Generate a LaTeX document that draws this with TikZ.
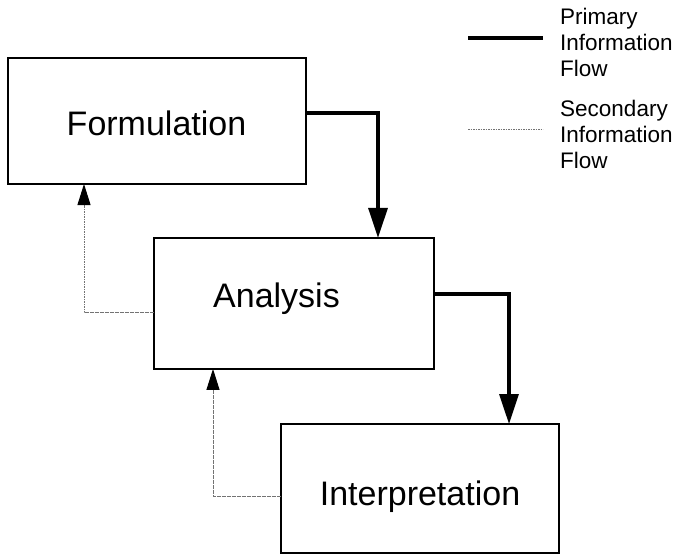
\documentclass[tikz,border=0pt]{standalone}
\usepackage{fontspec}
\setmainfont{Liberation Sans}
\usetikzlibrary{arrows.meta}
\begin{document}
\begin{tikzpicture}[x=1pt,y=-1pt,
  stagebox/.style={draw=black,line width=2pt,rectangle,inner sep=0pt,outer sep=0pt},
  stagetext/.style={anchor=base,inner sep=0pt,font=\fontsize{34}{40}\selectfont},
  legtext/.style={anchor=base west,inner sep=0pt,align=left,font=\fontsize{22.5}{26}\selectfont},
  primary/.style={line width=3.2pt,-{Triangle[length=30pt,width=19pt]}},
  secondary/.style={draw=black!55,line width=1pt,dash pattern=on 1.6pt off 0.9pt,
    -{Triangle[length=21pt,width=13pt,color=black]}},
  primleg/.style={line width=3.6pt},
  secleg/.style={draw=black!55,line width=1pt,dash pattern=on 1.6pt off 0.9pt}]
  \useasboundingbox[fill=white] (0,0) rectangle (676,556);

  % the three stages
  \node[stagebox,minimum width=298pt,minimum height=126pt] (form) at (156.6,121) {};
  \node[stagebox,minimum width=280pt,minimum height=131pt] (ana) at (294,303.4) {};
  \node[stagebox,minimum width=278pt,minimum height=129pt] (interp) at (420,488.5) {};

  \node[stagetext] (formtxt) at (156.5,136) {Formulation};
  \node[stagetext] (anatxt) at (276.5,307) {Analysis};
  \node[stagetext] (interptxt) at (420,505) {Interpretation};

  % primary flow
  \draw[primary] ([yshift=8pt]form.east) -| ([xshift=84pt]ana.north);
  \draw[primary] ([yshift=9.4pt]ana.east) -| ([xshift=89pt]interp.north);

  % secondary flow (feedback)
  \draw[secondary] ([yshift=-9.4pt]ana.west) -| ([xshift=-72.6pt]form.south);
  \draw[secondary] ([yshift=-7.5pt]interp.west) -| ([xshift=-81pt]ana.south);

  % legend (base anchor sits on the last line)
  \coordinate (pl1) at (468,38);
  \coordinate (pl2) at (543,38);
  \draw[primleg] (pl1) -- (pl2);
  \node[legtext] (primlbl) at (560,77) {Primary\\Information\\Flow};

  \coordinate (sl1) at (468,130);
  \coordinate (sl2) at (543,130);
  \draw[secleg] (sl1) -- (sl2);
  \node[legtext] (seclbl) at (560,168) {Secondary\\Information\\Flow};
\end{tikzpicture}
\end{document}
